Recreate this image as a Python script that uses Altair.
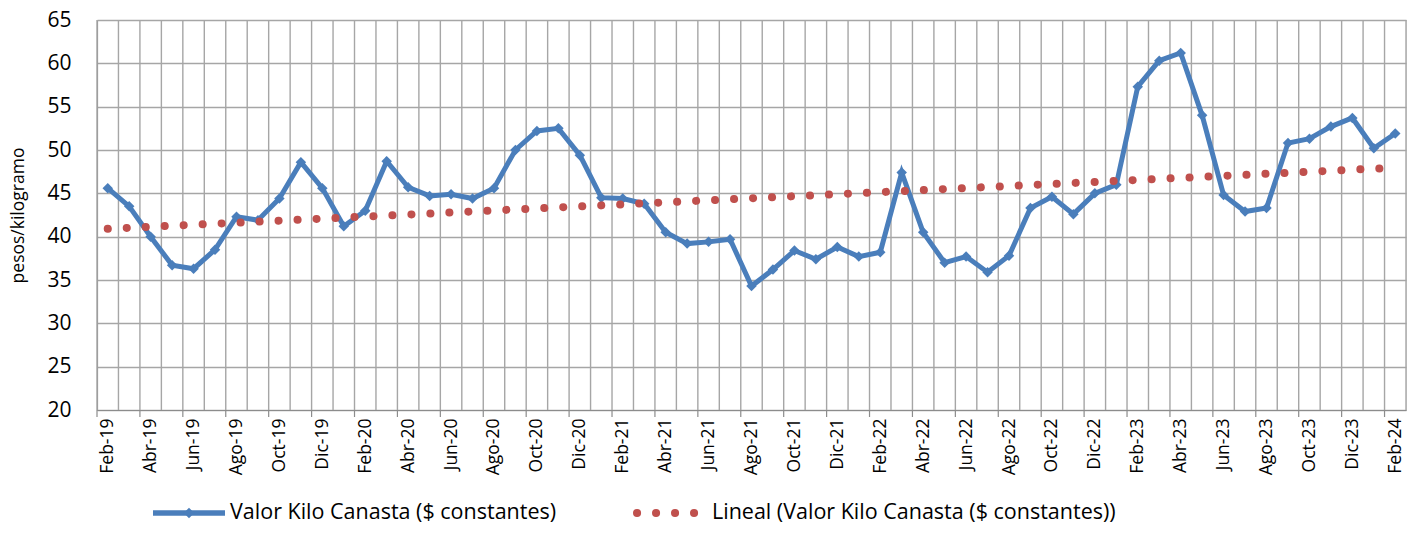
import altair as alt
import numpy as np
import pandas as pd

months = [
    "Feb-19", "Mar-19", "Abr-19", "May-19", "Jun-19", "Jul-19", "Ago-19", "Sep-19", "Oct-19", "Nov-19", "Dic-19",
    "Ene-20", "Feb-20", "Mar-20", "Abr-20", "May-20", "Jun-20", "Jul-20", "Ago-20", "Sep-20", "Oct-20", "Nov-20", "Dic-20",
    "Ene-21", "Feb-21", "Mar-21", "Abr-21", "May-21", "Jun-21", "Jul-21", "Ago-21", "Sep-21", "Oct-21", "Nov-21", "Dic-21",
    "Ene-22", "Feb-22", "Mar-22", "Abr-22", "May-22", "Jun-22", "Jul-22", "Ago-22", "Sep-22", "Oct-22", "Nov-22", "Dic-22",
    "Ene-23", "Feb-23", "Mar-23", "Abr-23", "May-23", "Jun-23", "Jul-23", "Ago-23", "Sep-23", "Oct-23", "Nov-23", "Dic-23",
    "Ene-24", "Feb-24",
]

values = [
    45.6, 43.5, 40.0, 36.7, 36.3, 38.5, 42.3, 41.9, 44.4, 48.6, 45.6,
    41.2, 43.0, 48.7, 45.7, 44.7, 44.9, 44.4, 45.6, 50.0, 52.2, 52.5, 49.4,
    44.5, 44.4, 43.8, 40.5, 39.2, 39.4, 39.7, 34.3, 36.2, 38.4, 37.4, 38.8,
    37.7, 38.2, 47.4, 40.5, 37.0, 37.7, 35.9, 37.8, 43.3, 44.6, 42.6, 45.0,
    46.0, 57.3, 60.3, 61.2, 54.0, 44.8, 42.9, 43.3, 50.8, 51.3, 52.7, 53.7,
    50.2, 51.9,
]

y_ticks = [20, 25, 30, 35, 40, 45, 50, 55, 60, 65]
legend_labels = [
    "Valor Kilo Canasta ($ constantes)",
    "Lineal (Valor Kilo Canasta ($ constantes))",
]
y_title = "pesos/kilogramo"

FONT = "Open Sans"
BLUE = "#4A7EBB"
RED = "#C0504D"
GRID = "#A6A6A6"
W, H = 1309, 390

idx = np.arange(len(values))
slope, intercept = np.polyfit(idx, values, 1)
trend = intercept + slope * idx

df = pd.DataFrame({"idx": idx, "month": months, "value": values, "trend": trend})
bounds = pd.DataFrame({"b": np.arange(len(values) + 1) - 0.5})
tick_bounds = bounds.iloc[::2]

xscale = alt.Scale(domain=[-0.5, len(values) - 0.5], nice=False, zero=False)
yscale = alt.Scale(domain=[20, 65], nice=False, zero=False)

label_expr = "[" + ",".join("'" + m + "'" for m in months) + "][datum.value]"

grid_v = alt.Chart(bounds).mark_rule(color=GRID, strokeWidth=1.4).encode(
    x=alt.X("b:Q", scale=xscale)
)

ticks_x = alt.Chart(tick_bounds).mark_rule(color="#8C8C8C", strokeWidth=1.2).encode(
    x=alt.X("b:Q", scale=xscale),
    y=alt.value(H),
    y2=alt.value(H + 7),
)

main = alt.Chart(df).mark_line(
    color=BLUE,
    strokeWidth=5,
    point=alt.OverlayMarkDef(shape="diamond", size=110, filled=True, color=BLUE),
).encode(
    x=alt.X(
        "idx:Q",
        scale=xscale,
        axis=alt.Axis(
            values=list(range(0, len(values), 2)),
            labelExpr=label_expr,
            labelAngle=-90,
            labelAlign="right",
            labelBaseline="middle",
            labelPadding=8,
            labelFontSize=17.5,
            labelFont=FONT,
            labelColor="#000000",
            labelOverlap=False,
            ticks=False,
            grid=False,
            domainColor="#8C8C8C",
            domainWidth=1.2,
            title=None,
        ),
    ),
    y=alt.Y(
        "value:Q",
        scale=yscale,
        axis=alt.Axis(
            values=y_ticks,
            grid=True,
            gridColor=GRID,
            gridWidth=1.4,
            ticks=False,
            domainColor="#8C8C8C",
            domainWidth=1.2,
            labelFontSize=21,
            labelFont=FONT,
            labelColor="#000000",
            labelPadding=26,
            title=y_title,
            titleFont=FONT,
            titleFontSize=17.5,
            titleFontWeight="normal",
            titleColor="#000000",
            titlePadding=19,
        ),
    ),
)

trend_line = alt.Chart(df).mark_line(
    color=RED, strokeWidth=8, strokeCap="round", strokeDash=[0.1, 18.9]
).encode(
    x=alt.X("idx:Q", scale=xscale),
    y=alt.Y("trend:Q", scale=yscale),
)

one = alt.Data(values=[{"k": 1}])
LY = 493
leg_line = alt.Chart(one).mark_rule(color=BLUE, strokeWidth=5.5).encode(
    x=alt.value(56), x2=alt.value(128), y=alt.value(LY)
)
leg_diamond = alt.Chart(one).mark_point(shape="diamond", size=110, filled=True, color=BLUE, opacity=1).encode(
    x=alt.value(92), y=alt.value(LY)
)
leg_dots = alt.Chart(one).mark_rule(
    color=RED, strokeWidth=8, strokeCap="round", strokeDash=[0.1, 18.9]
).encode(x=alt.value(540), x2=alt.value(600), y=alt.value(LY))
leg_text1 = alt.Chart(one).mark_text(align="left", baseline="middle", fontSize=21.5, font=FONT, color="#000000").encode(
    x=alt.value(133), y=alt.value(LY), text=alt.value(legend_labels[0])
)
leg_text2 = alt.Chart(one).mark_text(align="left", baseline="middle", fontSize=21.5, font=FONT, color="#000000").encode(
    x=alt.value(615), y=alt.value(LY), text=alt.value(legend_labels[1])
)

chart = alt.layer(
    grid_v, ticks_x, main, trend_line, leg_line, leg_diamond, leg_dots, leg_text1, leg_text2
).properties(
    width=W,
    height=H,
    autosize=alt.AutoSizeParams(type="none"),
    padding={"left": 89, "top": 12, "right": 5, "bottom": 116},
).configure_view(stroke=None).configure(background="#ffffff")

chart.save("out.html", embed_options={"renderer": "svg", "actions": False})
